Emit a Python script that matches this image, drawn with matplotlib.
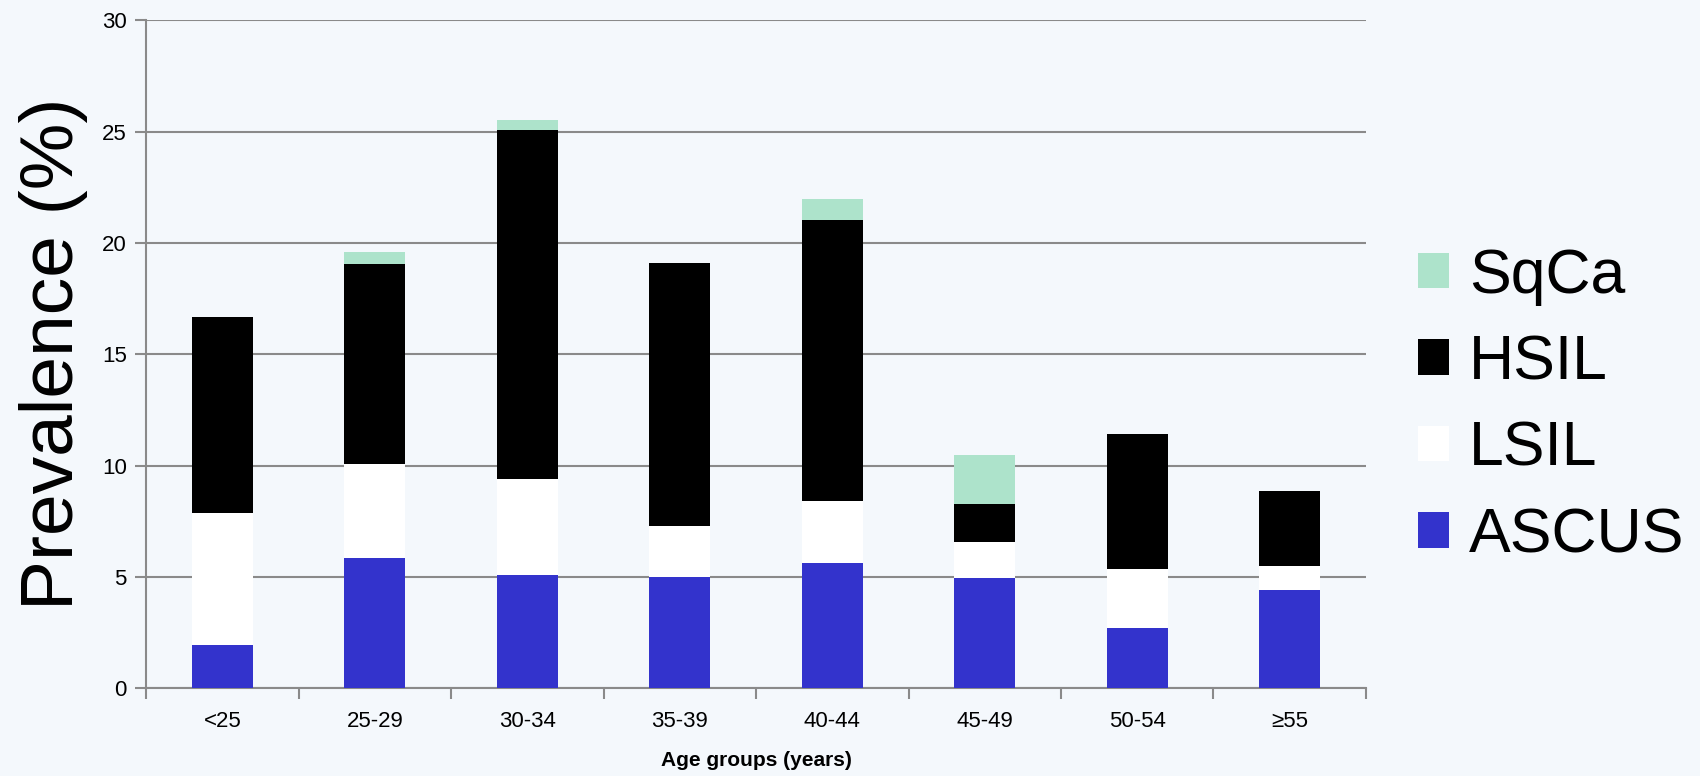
import numpy as np
import matplotlib
matplotlib.use('Agg')
import matplotlib.pyplot as plt
from matplotlib.patches import Patch

plt.rcParams['font.family'] = ['Liberation Sans', 'DejaVu Sans']

AGE_GROUPS = ['<25', '25-29', '30-34', '35-39', '40-44', '45-49', '50-54', '≥55']
ASCUS = [1.95, 5.83, 5.09, 4.99, 5.61, 4.95, 2.69, 4.41]
LSIL = [5.90, 4.23, 4.29, 2.30, 2.81, 1.64, 2.66, 1.10]
HSIL = [8.80, 8.98, 15.71, 11.79, 12.60, 1.67, 6.07, 3.33]
SQCA = [0.00, 0.54, 0.44, 0.00, 0.94, 2.20, 0.00, 0.00]

series = [('ASCUS', ASCUS, '#3333cc'),
          ('LSIL', LSIL, '#ffffff'),
          ('HSIL', HSIL, '#000000'),
          ('SqCa', SQCA, '#ade3cb')]

fig = plt.figure(figsize=(17, 7.76), dpi=100, facecolor='#f4f8fc')
ax = fig.add_axes([0.086, 0.113, 0.7175, 0.861])
ax.set_facecolor('none')

x = np.arange(len(AGE_GROUPS))
bottom = np.zeros(len(AGE_GROUPS))
handles = []
for name, vals, col in series:
    vals = np.array(vals)
    ax.bar(x, vals, width=0.4, bottom=bottom, color=col, edgecolor='none', zorder=3)
    bottom += vals
    handles.append(Patch(facecolor=col, edgecolor='none', label=name))

ax.set_xlim(-0.5, len(AGE_GROUPS) - 0.5)
ax.set_ylim(0, 30)
ax.set_yticks(range(0, 31, 5))
ax.yaxis.grid(True, color='#8a8a8a', linewidth=1.5, zorder=0)
ax.set_axisbelow(True)

ax.set_xticks(x)
ax.set_xticklabels(AGE_GROUPS, fontsize=16)
ax.set_xticks(np.arange(-0.5, len(AGE_GROUPS), 1), minor=True)
ax.tick_params(axis='x', which='major', length=0, pad=16)
ax.tick_params(axis='x', which='minor', length=8, width=1.5, color='#8a8a8a')
ax.tick_params(axis='y', length=8, width=1.5, color='#8a8a8a', labelsize=16, pad=6)

for s in ['top', 'right']:
    ax.spines[s].set_visible(False)
for s in ['left', 'bottom']:
    ax.spines[s].set_color('#8a8a8a')
    ax.spines[s].set_linewidth(1.5)

ax.set_xlabel('Age groups (years)', fontsize=15, fontweight='bold', labelpad=14)
ax.set_ylabel('Prevalence (%)', fontsize=54, labelpad=10)

leg = fig.legend(handles=handles[::-1], loc='center left',
                 bbox_to_anchor=(0.834, 0.477), frameon=False, fontsize=45,
                 handlelength=0.5, handleheight=0.5, handletextpad=0.32,
                 labelspacing=0.44, borderpad=0, borderaxespad=0)

fig.savefig('out.png', dpi=100, facecolor=fig.get_facecolor())
